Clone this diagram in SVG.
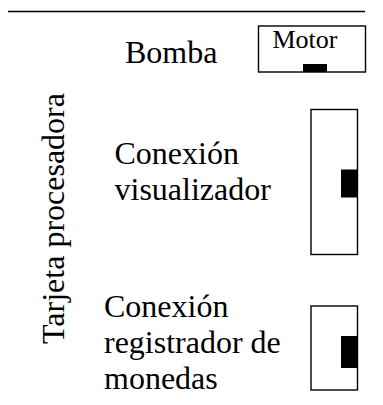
<svg xmlns="http://www.w3.org/2000/svg" width="383" height="405" viewBox="0 0 383 405">
<style>
.box{fill:#fff;stroke:#000;stroke-width:1.4}
.blk{fill:#000}
</style>
<rect width="383" height="405" fill="#fff"/>
<line x1="8" y1="11.5" x2="365" y2="11.5" stroke="#000" stroke-width="1.4"/>
<g id="bomba"><text font-family="Liberation Serif, serif" font-size="32" x="125" y="63">Bomba</text></g>
<g id="motor">
<rect class="box" x="258.5" y="26" width="107" height="46"/>
<text font-family="Liberation Serif, serif" font-size="26" x="272.5" y="48">Motor</text>
<rect class="blk" x="303" y="64" width="24" height="8"/>
</g>
<g id="tarjeta"><text font-family="Liberation Serif, serif" font-size="32" transform="translate(64,218.5) rotate(-90)" text-anchor="middle">Tarjeta procesadora</text></g>
<g id="visualizador">
<text font-family="Liberation Serif, serif" font-size="32" x="114.5" y="163.5">Conexión</text>
<text font-family="Liberation Serif, serif" font-size="32" x="114.5" y="200">visualizador</text>
<rect class="box" x="311" y="109.5" width="46.5" height="145"/>
<rect class="blk" x="341" y="169.5" width="17" height="28"/>
</g>
<g id="registrador">
<text font-family="Liberation Serif, serif" font-size="32" x="104" y="317">Conexión</text>
<text font-family="Liberation Serif, serif" font-size="32" x="104" y="353">registrador de</text>
<text font-family="Liberation Serif, serif" font-size="32" x="104" y="389">monedas</text>
<rect class="box" x="311" y="306" width="46.5" height="84"/>
<rect class="blk" x="341" y="336" width="17" height="32"/>
</g>
<g id="connectors"></g>
</svg>
